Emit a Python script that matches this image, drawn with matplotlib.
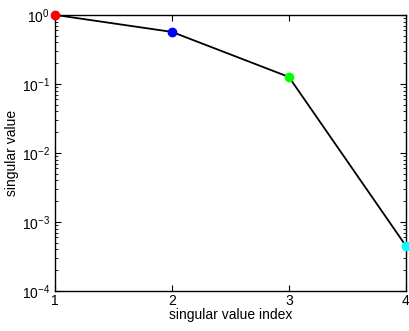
import matplotlib
matplotlib.use("Agg")
import matplotlib.pyplot as plt
from matplotlib.ticker import LogLocator

plt.rcParams['font.family'] = ['Liberation Sans', 'DejaVu Sans']

idx = [1, 2, 3, 4]
sv = [1.0, 0.567, 0.126, 4.5e-4]
colors = ['#ff0000', '#0000ff', '#00ff00', '#00ffff']

fig = plt.figure(figsize=(4.1, 3.31), dpi=100)
ax = fig.add_axes([0.134, 0.121, 0.856, 0.834])
ax.semilogy(idx, sv, color='black', lw=1.3, zorder=2)
for x, y, c in zip(idx, sv, colors):
    ax.plot([x], [y], 'o', color=c, ms=6, zorder=3, clip_on=False)
ax.set_xlim(1, 4)
ax.set_ylim(1e-4, 1)
ax.set_xticks(idx)
ax.yaxis.set_major_locator(LogLocator(base=10, numticks=10))
ax.yaxis.set_minor_locator(LogLocator(base=10, subs=range(2, 10), numticks=20))
ax.tick_params(which='both', direction='in', top=True, right=True, labelsize=10)
ax.tick_params(which='major', length=4)
ax.tick_params(which='minor', length=2)
ax.tick_params(axis='x', pad=2)
for s in ax.spines.values():
    s.set_linewidth(1.0)
ax.set_xlabel('singular value index', fontsize=10, labelpad=0)
ax.set_ylabel('singular value', fontsize=10, labelpad=2)
fig.savefig('out.png', dpi=100)
